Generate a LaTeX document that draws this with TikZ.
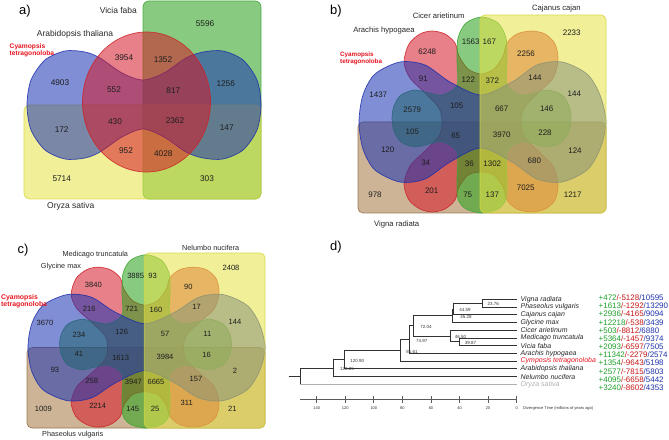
\documentclass[tikz,border=0pt]{standalone}
\usepackage{fontspec}
\setmainfont{Liberation Sans}
\definecolor{vblue}{RGB}{25,50,180}
\definecolor{vblueD}{RGB}{30,45,170}
\definecolor{vred}{RGB}{213,24,39}
\definecolor{vredD}{RGB}{205,35,40}
\definecolor{vgreen}{RGB}{39,162,24}
\definecolor{vgreenD}{RGB}{60,165,50}
\definecolor{vyellow}{RGB}{231,228,71}
\definecolor{vyellowD}{RGB}{215,215,60}
\definecolor{vbrown}{RGB}{164,119,64}
\definecolor{vbrownD}{RGB}{140,105,65}
\definecolor{numcol}{RGB}{30,30,30}
\definecolor{labcol}{RGB}{40,40,40}
\definecolor{cyamred}{RGB}{230,20,30}
\definecolor{gnum}{RGB}{30,160,40}
\definecolor{rnum}{RGB}{200,20,20}
\definecolor{bnum}{RGB}{30,50,170}
\definecolor{treecol}{RGB}{50,50,50}
\definecolor{orycol}{RGB}{175,175,175}
\newcommand\gainloss[3]{\textcolor{gnum}{+#1}\textcolor{rnum}{/-#2}\textcolor{bnum}{/#3}}
\newcommand\fiveVennShapes{%
  \draw[brownsh, rounded corners=5] (0,107) rectangle (248,198);
  \draw[redsh] plot[smooth cycle] coordinates {
    (46,47) (51,29) (62,19) (74,16) (87,19) (97,28) (101,41)
    (110,54) (123,59) (136,54)
    (145,41) (149,28) (159,19) (173,16) (187,19) (197,29) (200,45)
    (195,63) (180,78) (166,93) (163,107) (166,121) (180,136) (195,151)
    (200,169) (197,185) (187,194) (173,197) (159,194) (149,185) (145,172)
    (136,160) (123,157) (110,160)
    (101,172) (97,185) (87,194) (74,197) (62,194) (51,185) (46,169)
    (52,151) (67,136) (81,121) (84,107) (81,93) (67,78) (52,63)};
  \draw[greensh] plot[smooth cycle] coordinates {
    (99,70) (99,45) (100,23) (108,8) (124,2) (140,8) (148,23) (149,45) (149,70)
    (162,80)
    (176,78) (190,75) (204,80) (211,91) (213,103) (211,116) (204,127) (190,132) (176,129)
    (162,127)
    (149,137) (149,165) (148,184) (140,194) (124,198) (108,194) (100,184) (99,165) (99,137)
    (85,127)
    (71,129) (57,132) (43,127) (36,116) (34,103) (36,91) (43,80) (57,75) (71,78)
    (85,80)};
  \draw[bluesh] plot[smooth cycle] coordinates {
    (1,107) (5,80) (17,59) (42,47) (67,50) (92,67) (123,80) (154,67) (179,50)
    (204,47) (229,59) (242,80) (248,107) (242,134) (229,155) (204,167) (179,164)
    (154,147) (123,133) (92,147) (67,164) (42,167) (17,155) (5,134)};
  \draw[yellowsh, rounded corners=5] (122,0) rectangle (248,198);
}
\begin{document}
\begin{tikzpicture}[x=1bp,y=-1bp,
  every node/.style={inner sep=0pt},
  vset/.style={fill opacity=0.55, draw opacity=0.85, line width=0.7bp},
  bluesh/.style={vset, fill=vblue, draw=vblueD},
  redsh/.style={vset, fill=vred, draw=vredD},
  greensh/.style={vset, fill=vgreen, draw=vgreenD},
  yellowsh/.style={vset, fill=vyellow, draw=vyellowD},
  brownsh/.style={vset, fill=vbrown, draw=vbrownD},
  numa/.style={font=\fontsize{8.3}{9}\selectfont, text=numcol},
  numb/.style={font=\fontsize{8}{9}\selectfont, text=numcol},
  numc/.style={font=\fontsize{7.6}{9}\selectfont, text=numcol},
  laba/.style={font=\fontsize{8.5}{9}\selectfont, text=labcol},
  labb/.style={font=\fontsize{7.7}{9}\selectfont, text=labcol},
  labc/.style={font=\fontsize{7.3}{9}\selectfont, text=labcol},
  cyam/.style={font=\bfseries, text=cyamred, align=left, anchor=west},
  panel/.style={font=\fontsize{13}{14}\selectfont, text=black},
  leaf/.style={font=\fontsize{7}{8}\selectfont\itshape, text=labcol, anchor=west},
  gl/.style={font=\fontsize{8}{9}\selectfont, anchor=west},
  blab/.style={font=\fontsize{4.5}{5}\selectfont, text=treecol},
  branch/.style={draw=treecol, line width=0.9bp},
  axisline/.style={draw=treecol!80, line width=0.9bp},
  ticklab/.style={font=\fontsize{4}{5}\selectfont, text=treecol}
]
\fill[white] (0,0) rectangle (669,440);
\useasboundingbox (0,0) rectangle (669,440);

% ---------------- panel a ----------------
\draw[greensh, rounded corners=6] (143,1) rectangle (261,199);
\draw[yellowsh, rounded corners=6] (24,105) rectangle (261,199);
\draw[bluesh] plot[smooth cycle] coordinates {
  (27,105) (31,80) (45,60) (65,51) (85,52) (100,58) (122,73) (143,80)
  (164,73) (186,58) (203,52) (223,51) (243,60) (257,80) (261,105)
  (257,130) (243,150) (223,159) (203,158) (186,152) (164,137) (143,129)
  (122,137) (100,152) (85,158) (65,159) (45,150) (31,130)};
\draw[redsh] (146.5,102) ellipse [x radius=64bp, y radius=70bp];

\node[panel] (pa) at (25,11) {a)};
\node[laba] (la1) at (118.3,10) {Vicia faba};
\node[laba] (la2) at (75,34.3) {Arabidopsis thaliana};
\node[laba] (la3) at (70.7,206.7) {Oryza sativa};
\node[cyam, font=\fontsize{6.7}{6.6}\selectfont\bfseries] (la4) at (9.5,50.2) {Cyamopsis\\tetragonoloba};

\node[numa] (a1) at (205,24) {5596};
\node[numa] (a2) at (124,58) {3954};
\node[numa] (a3) at (163,59.3) {1352};
\node[numa] (a4) at (60,82.7) {4903};
\node[numa] (a5) at (114,89.3) {552};
\node[numa] (a6) at (173.3,90.7) {817};
\node[numa] (a7) at (225.7,83.3) {1256};
\node[numa] (a8) at (61.7,129.3) {172};
\node[numa] (a9) at (115,121.7) {430};
\node[numa] (a10) at (175,120.7) {2362};
\node[numa] (a11) at (226.7,127.3) {147};
\node[numa] (a12) at (126,150.7) {952};
\node[numa] (a13) at (163.3,153.3) {4028};
\node[numa] (a14) at (61.7,179) {5714};
\node[numa] (a15) at (207,179) {303};

% ---------------- panel b ----------------
\begin{scope}[shift={(358,15)}]
  \fiveVennShapes
\end{scope}
\node[panel] (pb) at (336,11) {b)};
\node[labb] (lb1) at (438.7,16) {Cicer arietinum};
\node[labb] (lb2) at (556.3,9) {Cajanus cajan};
\node[labb] (lb3) at (384,30.7) {Arachis hypogaea};
\node[labb] (lb4) at (396.7,225) {Vigna radiata};
\node[cyam, font=\fontsize{6.3}{6.6}\selectfont\bfseries] (lb5) at (340,58.5) {Cyamopsis\\tetragonoloba};

\node[numb] (b1) at (571.7,32.3) {2233};
\node[numb] (b2) at (427.3,51.7) {6248};
\node[numb] (b3) at (470.7,41.7) {1563};
\node[numb] (b4) at (489.3,41.7) {167};
\node[numb] (b5) at (526,53.3) {2256};
\node[numb] (b6) at (423.3,79) {91};
\node[numb] (b7) at (468.3,79.3) {122};
\node[numb] (b8) at (492.3,80.3) {372};
\node[numb] (b9) at (535,77.7) {144};
\node[numb] (b10) at (378.3,95) {1437};
\node[numb] (b11) at (574.3,93.3) {144};
\node[numb] (b12) at (412.3,109.3) {2579};
\node[numb] (b13) at (456.7,106) {105};
\node[numb] (b14) at (501.7,108.3) {667};
\node[numb] (b15) at (546.7,108.3) {146};
\node[numb] (b16) at (412.3,131.7) {105};
\node[numb] (b17) at (455.7,135.7) {65};
\node[numb] (b18) at (501.7,134.3) {3970};
\node[numb] (b19) at (545,132.3) {228};
\node[numb] (b20) at (387.7,149.3) {120};
\node[numb] (b21) at (425.7,162.7) {34};
\node[numb] (b22) at (469.3,163.3) {36};
\node[numb] (b23) at (492.3,163.3) {1302};
\node[numb] (b24) at (534.3,160.7) {680};
\node[numb] (b25) at (575,150.7) {124};
\node[numb] (b26) at (375,195) {978};
\node[numb] (b27) at (431.7,191) {201};
\node[numb] (b28) at (467.7,195) {75};
\node[numb] (b29) at (492.3,195) {137};
\node[numb] (b30) at (525.7,187.7) {7025};
\node[numb] (b31) at (572.7,194.3) {1217};

% ---------------- panel c ----------------
\begin{scope}[shift={(27,253)}]
  \begin{scope}[xscale=0.96, yscale=0.884]
    \fiveVennShapes
  \end{scope}
\end{scope}
\node[panel] (pc) at (23,250) {c)};
\node[labc] (lc1) at (95.3,254.3) {Medicago truncatula};
\node[labc] (lc2) at (210.7,248.3) {Nelumbo nucifera};
\node[labc] (lc3) at (61,266.7) {Glycine max};
\node[labc] (lc4) at (72.7,435) {Phaseolus vulgaris};
\node[cyam, font=\fontsize{6.9}{6.4}\selectfont\bfseries] (lc5) at (1,301.3) {Cyamopsis\\tetragonoloba};

\node[numc] (c1) at (231,267.7) {2408};
\node[numc] (c2) at (93.3,285) {3840};
\node[numc] (c3) at (135.7,276) {3885};
\node[numc] (c4) at (152.7,276) {93};
\node[numc] (c5) at (188.3,286.7) {90};
\node[numc] (c6) at (89.3,309) {216};
\node[numc] (c7) at (131.7,309) {721};
\node[numc] (c8) at (156,310) {160};
\node[numc] (c9) at (196.7,307.3) {17};
\node[numc] (c10) at (45,323.3) {3670};
\node[numc] (c11) at (235,321.7) {144};
\node[numc] (c12) at (79,335) {234};
\node[numc] (c13) at (121.7,332.3) {126};
\node[numc] (c14) at (165,334) {57};
\node[numc] (c15) at (207.3,334) {11};
\node[numc] (c16) at (79,354.3) {41};
\node[numc] (c17) at (120.7,357.7) {1613};
\node[numc] (c18) at (165,356.7) {3984};
\node[numc] (c19) at (206.7,355) {16};
\node[numc] (c20) at (55,370) {93};
\node[numc] (c21) at (91.7,381) {258};
\node[numc] (c22) at (133.3,381.7) {3947};
\node[numc] (c23) at (156,381.7) {6665};
\node[numc] (c24) at (196,379.3) {157};
\node[numc] (c25) at (235,371) {2};
\node[numc] (c26) at (43.3,409.3) {1009};
\node[numc] (c27) at (97.7,405.7) {2214};
\node[numc] (c28) at (132.7,409.3) {145};
\node[numc] (c29) at (155,409.3) {25};
\node[numc] (c30) at (186.7,402.7) {311};
\node[numc] (c31) at (232.3,409.3) {21};

% ---------------- panel d ----------------
\node[panel] (pd) at (336,247) {d)};

\coordinate (tVig) at (516.7,299.3);
\coordinate (tPha) at (516.7,307.0);
\coordinate (tCaj) at (516.7,314.8);
\coordinate (tGly) at (516.7,322.5);
\coordinate (tCic) at (516.7,330.2);
\coordinate (tMed) at (516.7,338.0);
\coordinate (tVic) at (516.7,345.7);
\coordinate (tAra) at (516.7,353.4);
\coordinate (tCym) at (516.7,361.1);
\coordinate (tAth) at (516.7,368.9);
\coordinate (tNel) at (516.7,376.6);
\coordinate (tOry) at (516.7,384.3);

\coordinate (nVP) at (482.8,303.15);
\coordinate (n44) at (453.0,308.98);
\coordinate (n45) at (452.0,315.74);
\coordinate (nMV) at (459.7,341.85);
\coordinate (nCMV) at (450.3,336.03);
\coordinate (n72) at (413.8,325.88);
\coordinate (n74) at (409.6,339.64);
\coordinate (n81) at (400.1,350.37);
\coordinate (n120) at (344.0,359.64);
\coordinate (n128) at (333.5,368.12);
\coordinate (nRoot) at (300.3,376.21);
\coordinate (stem) at (288.5,376.21);

\draw[branch] (nVP) |- (tVig);
\draw[branch] (nVP) |- (tPha);
\draw[branch] (n44) |- (nVP);
\draw[branch] (n44) |- (tCaj);
\draw[branch] (n45) |- (n44);
\draw[branch] (n45) |- (tGly);
\draw[branch] (nMV) |- (tMed);
\draw[branch] (nMV) |- (tVic);
\draw[branch] (nCMV) |- (tCic);
\draw[branch] (nCMV) |- (nMV);
\draw[branch] (n72) |- (n45);
\draw[branch] (n72) |- (nCMV);
\draw[branch] (n74) |- (n72);
\draw[branch] (n74) |- (tAra);
\draw[branch] (n81) |- (n74);
\draw[branch] (n81) |- (tCym);
\draw[branch] (n120) |- (n81);
\draw[branch] (n120) |- (tAth);
\draw[branch] (n128) |- (n120);
\draw[branch] (n128) |- (tNel);
\draw[branch] (nRoot) |- (n128);
\draw[branch] (nRoot) -- (nRoot |- tOry);
\draw[branch, draw=orycol] (nRoot |- tOry) -- (tOry);
\draw[branch] (stem) -- (nRoot);

\node[blab] (bl1) at (493.3,304) {23.76};
\node[blab] (bl2) at (465,310.3) {44.59};
\node[blab] (bl3) at (466,316.7) {45.28};
\node[blab] (bl4) at (426,326.5) {72.04};
\node[blab] (bl5) at (460.5,336.7) {46.50};
\node[blab] (bl6) at (470.5,342.5) {39.87};
\node[blab] (bl7) at (421.7,340.7) {74.97};
\node[blab] (bl8) at (412,352) {81.61};
\node[blab] (bl9) at (357.3,360.7) {120.90};
\node[blab] (bl10) at (347,369.3) {128.26};

\node[leaf] (lVig) at (520.5,299.3) {Vigna radiata};
\node[leaf] (lPha) at (520.5,307.0) {Phaseolus vulgaris};
\node[leaf] (lCaj) at (520.5,314.8) {Cajanus cajan};
\node[leaf] (lGly) at (520.5,322.5) {Glycine max};
\node[leaf] (lCic) at (520.5,330.2) {Cicer arietinum};
\node[leaf] (lMed) at (520.5,338.0) {Medicago truncatula};
\node[leaf] (lVic) at (520.5,345.7) {Vicia faba};
\node[leaf] (lAra) at (520.5,353.4) {Arachis hypogaea};
\node[leaf, text=cyamred] (lCym) at (520.5,361.1) {Cymposis tetragonoloba};
\node[leaf] (lAth) at (520.5,368.9) {Arabidopsis thaliana};
\node[leaf] (lNel) at (520.5,376.6) {Nelumbo nucifera};
\node[leaf, text=orycol] (lOry) at (520.5,384.3) {Oryza sativa};

\node[gl] (g1) at (598.5,297.7) {\gainloss{472}{5128}{10595}};
\node[gl] (g2) at (598.5,305.9) {\gainloss{1613}{1292}{13290}};
\node[gl] (g3) at (598.5,314.1) {\gainloss{2936}{4165}{9094}};
\node[gl] (g4) at (598.5,322.2) {\gainloss{12218}{538}{3439}};
\node[gl] (g5) at (598.5,330.4) {\gainloss{503}{8812}{6880}};
\node[gl] (g6) at (598.5,338.6) {\gainloss{5364}{1457}{9374}};
\node[gl] (g7) at (598.5,346.8) {\gainloss{2093}{6597}{7505}};
\node[gl] (g8) at (598.5,355.0) {\gainloss{11342}{2279}{2574}};
\node[gl] (g9) at (598.5,363.1) {\gainloss{1354}{9643}{5198}};
\node[gl] (g10) at (598.5,371.3) {\gainloss{2577}{7815}{5803}};
\node[gl] (g11) at (598.5,379.5) {\gainloss{4095}{6658}{5442}};
\node[gl] (g12) at (598.5,387.7) {\gainloss{3240}{8602}{4353}};

\coordinate (ax0) at (300,399.3);
\coordinate (ax1) at (516.7,399.3);
\draw[axisline] (ax0) -- (ax1);
\foreach \t in {0,20,...,140} {
  \draw[axisline] ({516.7-1.4286*\t},396.3) -- ({516.7-1.4286*\t},402.5);
  \node[ticklab] (tk\t) at ({516.7-1.4286*\t},408) {\t};
}
\node[ticklab, anchor=west] (axlab) at (523,408) {Divergence Time (millions of years ago)};
\end{tikzpicture}
\end{document}
